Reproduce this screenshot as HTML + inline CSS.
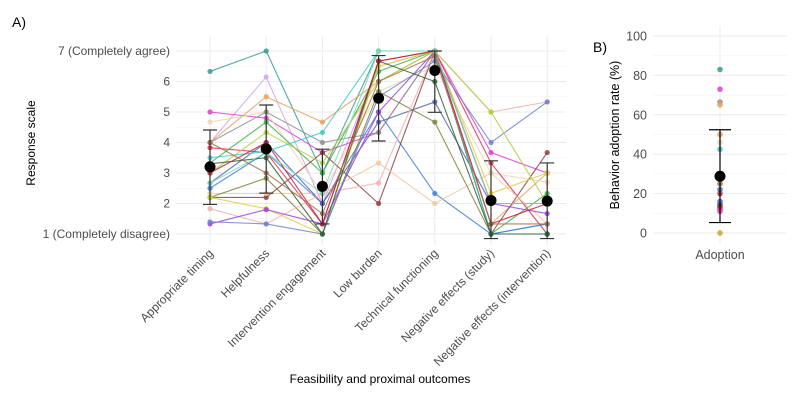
<!DOCTYPE html>
<html><head><meta charset="utf-8"><style>
body{margin:0;background:#fff;}
svg{display:block;font-family:"Liberation Sans",sans-serif;}
</style></head><body>
<svg id="c" width="800" height="400" viewBox="0 0 800 400"></svg>
<script>
const categories=["Appropriate timing","Helpfulness","Intervention engagement","Low burden","Technical functioning","Negative effects (study)","Negative effects (intervention)"];
const seriesColors=["#3a9a94","#d4a6e8","#e8a060","#e040d0","#e8d8b0","#909090","#e03050","#40b040","#4080e0","#904040","#f0c8a0","#5060b0","#808040","#e0d040","#f0b0b0","#a040e0","#7080d0","#b0d040","#40c8c8","#306030","#c02040","#80d8b0","#a07050"];
const seriesValues=[
[6.33,7,3.0,7,7,1,1.33],[4.0,6.15,2.0,6.5,7,2,2],[4.0,5.5,4.67,6.0,7,1.33,3.0],[5.0,4.8,3.67,4.33,7,3.67,3.0],
[4.67,5.0,2.33,5.67,6.5,3.0,2.7],[4.0,5.0,4.0,4.33,7,2,2],[3.83,3.67,1.33,6.67,7,3.33,1.0],[3.33,4.67,3.0,6.33,7,1.0,2.33],
[2.5,3.67,2.0,5.0,2.33,1.0,1.33],[2.2,2.2,3.67,2.0,7,1.0,3.67],[2.33,2.33,2.33,3.33,2.0,3.0,1.33],[2.67,4.0,2.0,4.67,5.33,2,2],
[2.2,2.83,1.0,5.67,4.67,1,1],[2.2,1.83,1.0,6.5,7,2.33,3.0],[1.83,1.33,2.33,2.67,7,5.0,5.33],[1.33,1.8,1.33,5.0,7,2,1.67],
[1.4,1.33,1.0,5.5,6.67,4.0,5.33],[3.0,4.33,3.33,6.0,7,5.0,2.0],[3.5,3.7,4.33,7.0,7,1,1],[3.3,3.5,1.0,6.67,6.0,1.0,1.0],
[3.0,4.0,1.33,6.67,7,1.33,2.0],[2.67,3.67,2.33,7,7,2,2.0],[4.0,3.0,1.67,6.0,6.83,1.33,1.33]];
const means=[3.2,3.79,2.56,5.45,6.36,2.1,2.08];
const errLow=[1.97,2.34,1.33,4.05,4.99,0.85,0.85];
const errHigh=[4.41,5.23,3.78,6.85,7.0,3.4,3.33];
const yTicks=[1,2,3,4,5,6,7];
const yTickLabels=["1 (Completely disagree)","2","3","4","5","6","7 (Completely agree)"];
const adoptValues=[83,73,66.5,65,50,46,42.5,27,25,22,20,16,15,14,13,12,11,0];
const adoptColors=["#3a9a94","#e040d0","#909090","#e8a060","#e8a060","#e8d8b0","#40c8c8","#f0c8a0","#a07050","#5060b0","#904040","#a040e0","#4080e0","#306030","#c02040","#e03050","#e040d0","#c8a830"];
const adoptMean=28.8, adoptLow=5.3, adoptHigh=52.4;
const bTicks=[0,20,40,60,80,100];

const svg=document.getElementById('c');const NS="http://www.w3.org/2000/svg";
function el(t,a,txt){const e=document.createElementNS(NS,t);for(const k in a)e.setAttribute(k,a[k]);if(txt!==undefined)e.textContent=txt;svg.appendChild(e);return e;}
const xA=i=>210+i*56.2, yA=v=>234-(v-1)*30.5;
const L=176,R=566,T=36,B=245;
for(let v=1.5;v<7.5;v++){const g=el('line',{x1:L,x2:R,y1:yA(v),y2:yA(v),stroke:'#f2f2f2','stroke-width':0.6});}
yTicks.forEach((v,i)=>{const g=el('line',{x1:L,x2:R,y1:yA(v),y2:yA(v),stroke:'#ebebeb','stroke-width':1});
const t=el('text',{x:170,y:yA(v)+4,'text-anchor':'end','font-size':12,fill:'#4d4d4d'},yTickLabels[i]);});
categories.forEach((c,i)=>{const g=el('line',{x1:xA(i),x2:xA(i),y1:T,y2:B,stroke:'#ebebeb'});
const t=el('text',{x:xA(i)+4,y:254,'text-anchor':'end','font-size':12,fill:'#4d4d4d',transform:`rotate(-45 ${xA(i)+4} 254)`},c);});
seriesValues.forEach((s,k)=>{const p=el('polyline',{points:s.map((v,i)=>xA(i)+','+yA(v)).join(' '),fill:'none',stroke:seriesColors[k],'stroke-width':1.1,opacity:0.85});
s.forEach((v,i)=>{const c=el('circle',{cx:xA(i),cy:yA(v),r:2.6,fill:seriesColors[k],opacity:0.85});});});
means.forEach((m,i)=>{const x=xA(i);const e=el('path',{d:`M${x-7},${yA(errHigh[i])}H${x+7}M${x},${yA(errHigh[i])}V${yA(errLow[i])}M${x-7},${yA(errLow[i])}H${x+7}`,stroke:'#333',fill:'none','stroke-width':1.2});
const c=el('circle',{cx:x,cy:yA(m),r:5.5,fill:'#000'});});
let t=el('text',{x:12,y:27,'font-size':14,fill:'#000'},'A)');
t=el('text',{x:35,y:143,'font-size':12,fill:'#000','text-anchor':'middle',transform:'rotate(-90 35 143)'},'Response scale');
t=el('text',{x:380,y:383,'font-size':12,fill:'#000','text-anchor':'middle'},'Feasibility and proximal outcomes');
const yB=v=>233-v*1.97, xB=720, BL=653, BR=787;
for(let v=10;v<110;v+=20){const g=el('line',{x1:BL,x2:BR,y1:yB(v),y2:yB(v),stroke:'#f2f2f2','stroke-width':0.6});}
bTicks.forEach(v=>{const g=el('line',{x1:BL,x2:BR,y1:yB(v),y2:yB(v),stroke:'#ebebeb'});
const tt=el('text',{x:647,y:yB(v)+4.5,'text-anchor':'end','font-size':12.5,fill:'#4d4d4d'},String(v));});
let g=el('line',{x1:xB,x2:xB,y1:26,y2:245,stroke:'#ebebeb'});
adoptValues.forEach((v,i)=>{const c=el('circle',{cx:xB,cy:yB(v),r:2.8,fill:adoptColors[i],opacity:0.85});});
g=el('path',{d:`M${xB-11},${yB(adoptHigh)}H${xB+11}M${xB},${yB(adoptHigh)}V${yB(adoptLow)}M${xB-11},${yB(adoptLow)}H${xB+11}`,stroke:'#000',fill:'none','stroke-width':1.2});
g=el('circle',{cx:xB,cy:yB(adoptMean),r:5.5,fill:'#000'});
t=el('text',{x:720,y:259,'font-size':12.5,fill:'#4d4d4d','text-anchor':'middle'},'Adoption');
t=el('text',{x:593,y:52,'font-size':14,fill:'#000'},'B)');
t=el('text',{x:619,y:135,'font-size':12.5,fill:'#000','text-anchor':'middle',transform:'rotate(-90 619 135)'},'Behavior adoption rate (%)');
</script>
</body></html>
